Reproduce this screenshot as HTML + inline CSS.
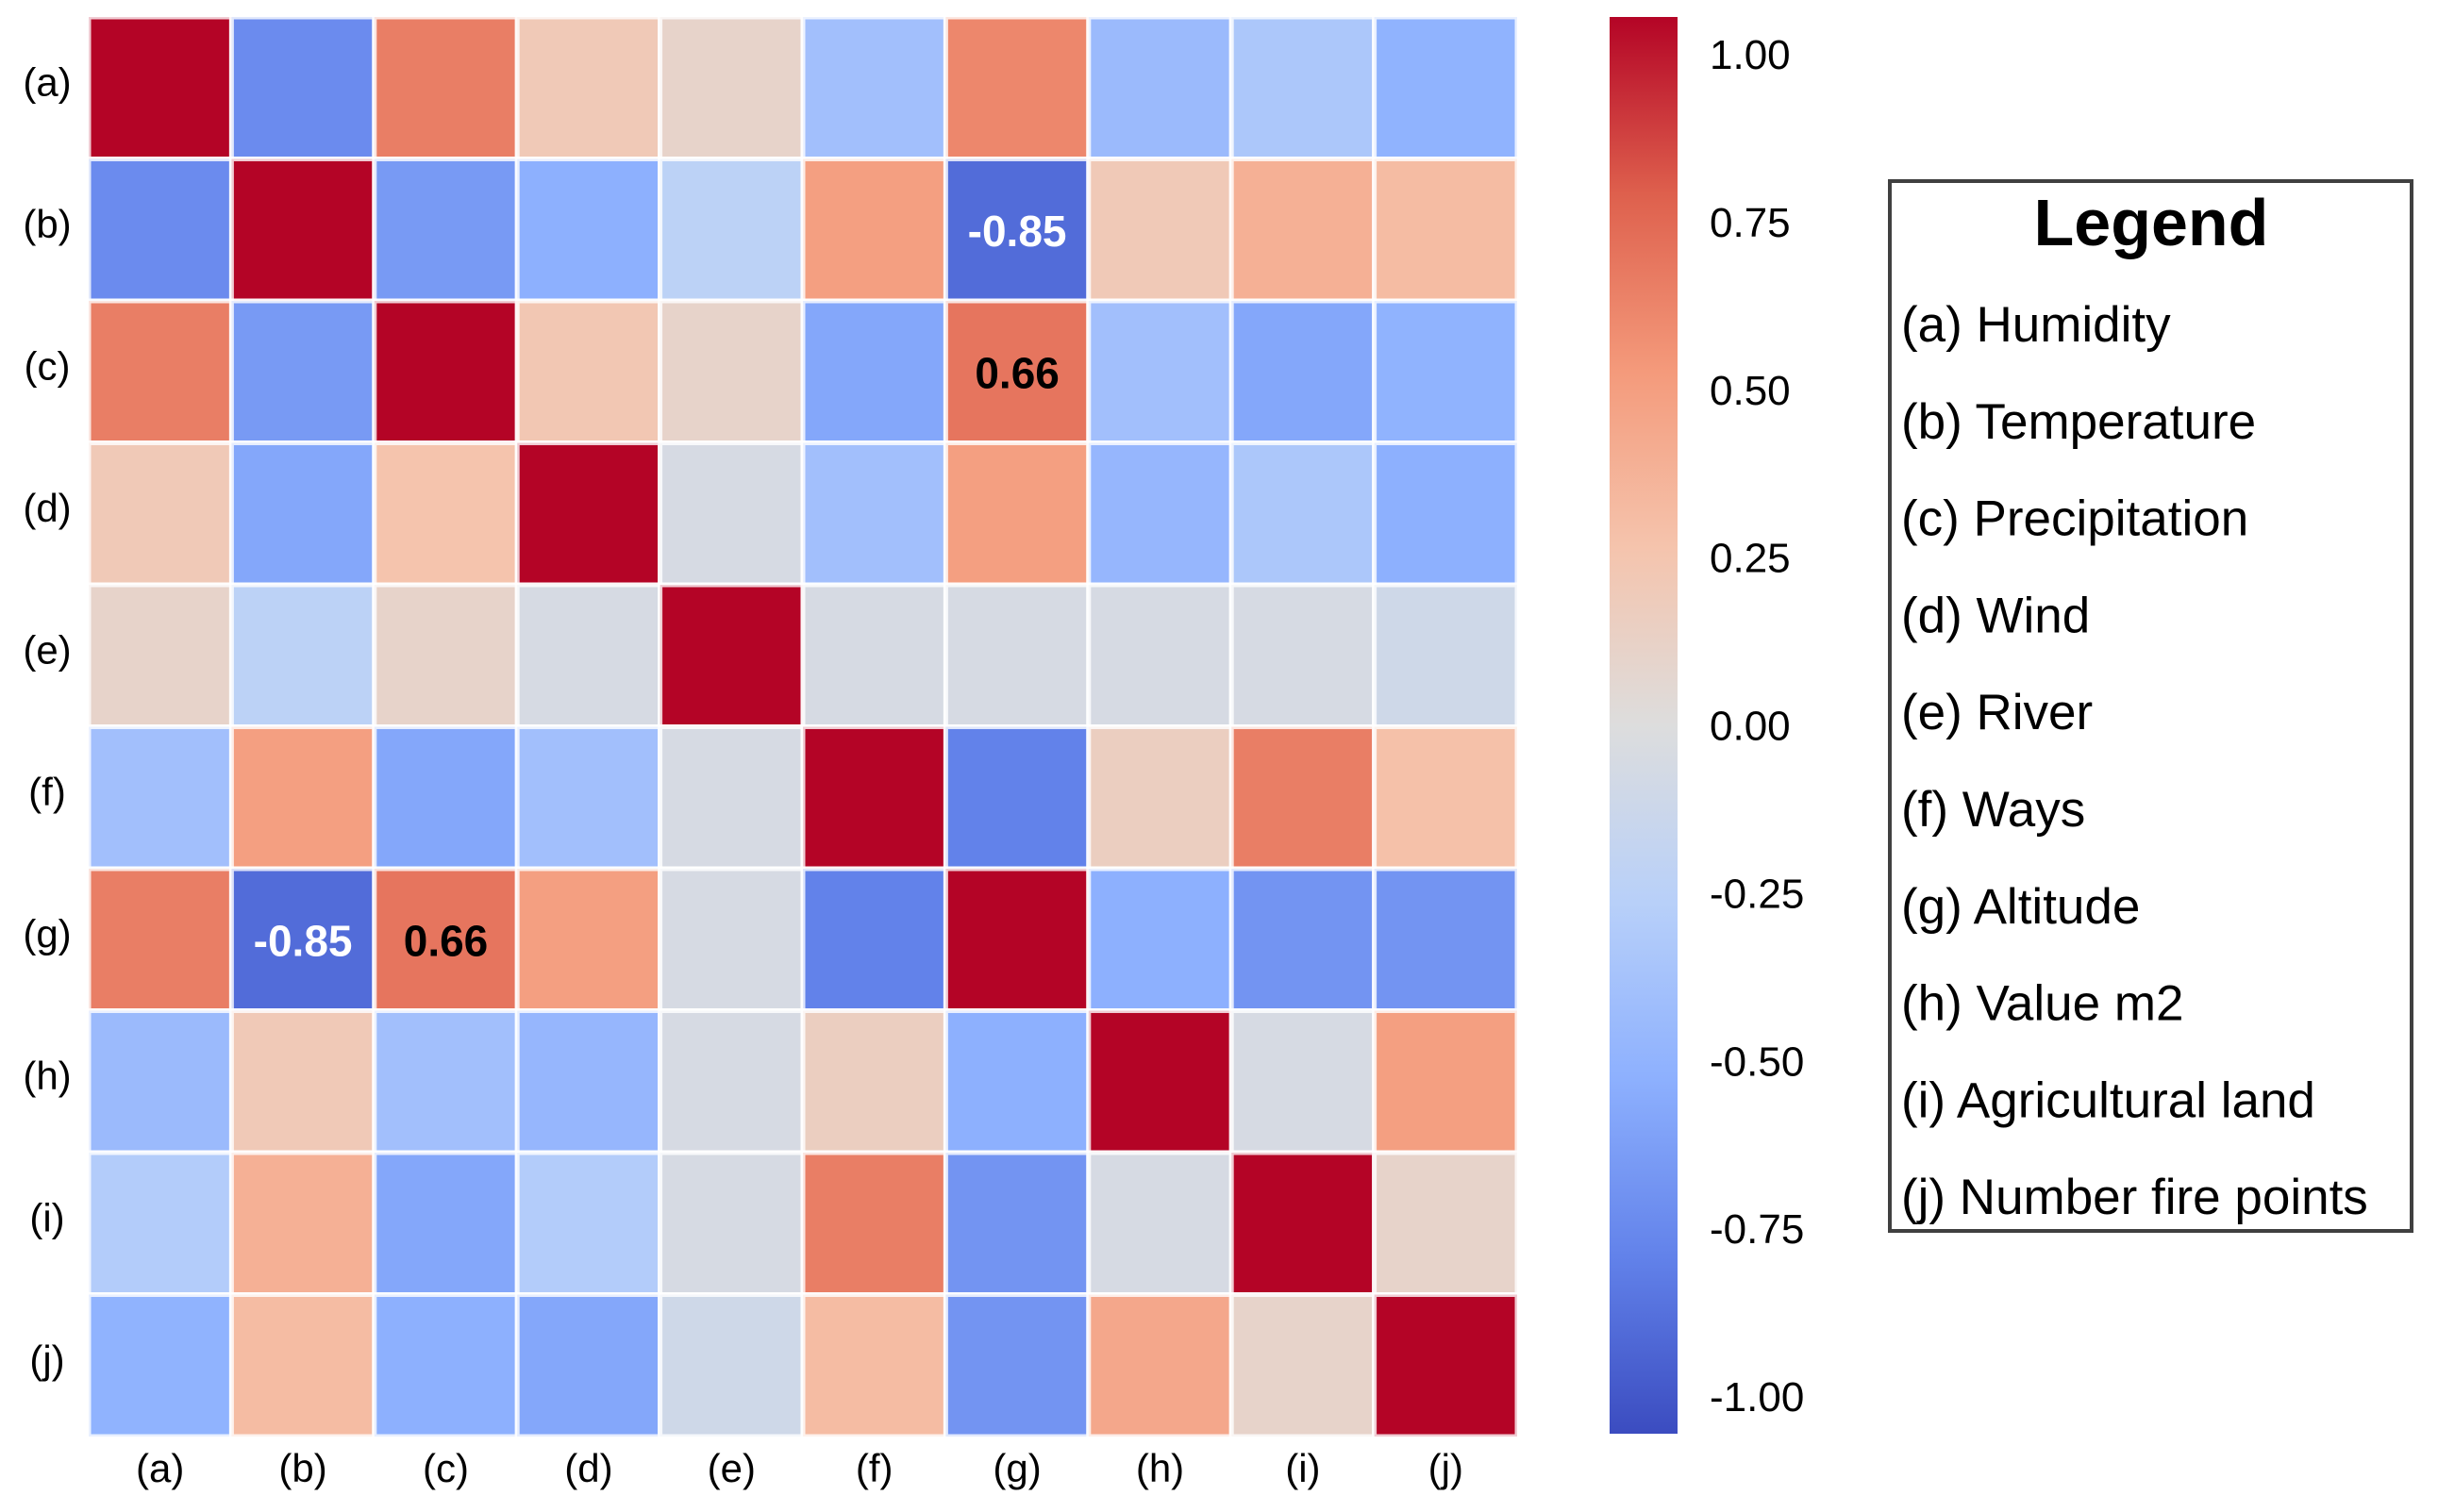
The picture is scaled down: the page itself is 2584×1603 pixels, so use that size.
<!DOCTYPE html>
<html><head><meta charset="utf-8"><style>
html,body{margin:0;padding:0;background:#fff;}
svg{display:block;font-family:"Liberation Sans",Arial,sans-serif;}
</style></head><body>
<svg id="chart" width="2584" height="1603" viewBox="0 0 2584 1603" xmlns="http://www.w3.org/2000/svg">
<defs>
<linearGradient id="cbgrad" x1="0" y1="1" x2="0" y2="0">
<stop offset="0" stop-color="#3b4cc0"/><stop offset="0.125" stop-color="#6282ea"/><stop offset="0.25" stop-color="#8db0fe"/><stop offset="0.375" stop-color="#b8d0f9"/><stop offset="0.5" stop-color="#dddddd"/><stop offset="0.625" stop-color="#f5c4ad"/><stop offset="0.75" stop-color="#f49a7b"/><stop offset="0.875" stop-color="#de604d"/><stop offset="1" stop-color="#b40426"/>
</linearGradient>
</defs>
<g id="cells"></g>
<g id="annots"></g>
<g id="ylabels"></g>
<g id="xlabels"></g>
<rect x="1706" y="18" width="72" height="1502" fill="url(#cbgrad)"/>
<g id="cbticks"></g>
<g>
<rect x="2003" y="192" width="553" height="1113" fill="#fff" stroke="#404040" stroke-width="4"/>
<text x="2280" y="260" text-anchor="middle" font-size="70" font-weight="bold" fill="#000">Legend</text>
<g id="legend-items"></g>
</g>
</svg>
<script>
const labels = ['(a)','(b)','(c)','(d)','(e)','(f)','(g)','(h)','(i)','(j)'];
const legendNames = ['(a) Humidity','(b) Temperature','(c) Precipitation','(d) Wind','(e) River','(f) Ways','(g) Altitude','(h) Value m2','(i) Agricultural land','(j) Number fire points'];
const rowA = [1, -0.7, 0.62, 0.2, 0.1, -0.38, 0.58, -0.42, -0.32, -0.48];
const rowB = [-0.7, 1, -0.62, -0.5, -0.22, 0.47, -0.85, 0.2, 0.37, 0.3];
const rowC = [0.62, -0.62, 1, 0.22, 0.1, -0.55, 0.66, -0.38, -0.55, -0.48];
const rowD = [0.2, -0.55, 0.25, 1, -0.05, -0.38, 0.47, -0.45, -0.32, -0.5];
const rowE = [0.1, -0.22, 0.1, -0.05, 1, -0.05, -0.05, -0.05, -0.05, -0.1];
const rowF = [-0.38, 0.47, -0.55, -0.38, -0.05, 1, -0.75, 0.15, 0.62, 0.27];
const rowG = [0.62, -0.85, 0.66, 0.47, -0.05, -0.75, 1, -0.5, -0.65, -0.65];
const rowH = [-0.42, 0.2, -0.38, -0.45, -0.05, 0.15, -0.5, 1, -0.05, 0.47];
const rowI = [-0.28, 0.37, -0.55, -0.28, -0.05, 0.62, -0.65, -0.05, 1, 0.1];
const rowJ = [-0.48, 0.3, -0.5, -0.55, -0.1, 0.3, -0.65, 0.42, 0.1, 1];
const matrix = [rowA,rowB,rowC,rowD,rowE,rowF,rowG,rowH,rowI,rowJ];
const annotated = [[1,6],[2,6],[6,1],[6,2]];
const cbTicks = [1.00, 0.75, 0.50, 0.25, 0.00, -0.25, -0.50, -0.75, -1.00];

const NS='http://www.w3.org/2000/svg';
const X0=94, Y0=18, CW=151.4, CH=150.5, VMAX=1.0;
const xPos=i=>X0+i*CW, yPos=i=>Y0+i*CH;
const cbY=v=>57+(1-v)*711.5;
const stops=[[59,76,192],[98,130,234],[141,176,254],[184,208,249],[221,221,221],[245,196,173],[244,154,123],[222,96,77],[180,4,38]];
function cmap(v){let t=(v+VMAX)/(2*VMAX);t=Math.max(0,Math.min(1,t));const p=t*8;const i=Math.min(7,Math.floor(p));const f=p-i;const a=stops[i],b=stops[i+1];return 'rgb('+a.map((c,k)=>Math.round(c+(b[k]-c)*f)).join(',')+')';}
function mk(tag,attrs,parent){const e=document.createElementNS(NS,tag);for(const k in attrs)e.setAttribute(k,attrs[k]);parent.appendChild(e);return e;}

const cells=document.getElementById('cells');
matrix.forEach((row,r)=>row.forEach((v,c)=>{
  const e=mk('rect',{x:xPos(c),y:yPos(r),width:CW,height:CH,fill:cmap(v),stroke:'#fff','stroke-opacity':'0.8','stroke-width':5},cells);
  
  
}));
const annots=document.getElementById('annots');
annotated.forEach(([r,c])=>{
  const v=matrix[r][c];
  const t=mk('text',{x:xPos(c)+CW/2,y:yPos(r)+CH/2+17,'text-anchor':'middle','font-size':46,'font-weight':'bold',fill:Math.abs(v)>0.7?'#fff':'#000'},annots);
  t.textContent=v.toFixed(2);
  
  
});
const yl=document.getElementById('ylabels'), xl=document.getElementById('xlabels');
labels.forEach((l,i)=>{
  const t=mk('text',{x:50,y:yPos(i)+CH/2+8,'text-anchor':'middle','font-size':42,fill:'#000'},yl);
  t.textContent=l;
  
  
  const u=mk('text',{x:xPos(i)+CW/2,y:1571,'text-anchor':'middle','font-size':42,fill:'#000'},xl);
  u.textContent=l;
  
  
});
const cb=document.getElementById('cbticks');
cbTicks.forEach(v=>{
  const t=mk('text',{x:1812,y:cbY(v)+16,'font-size':44,fill:'#000'},cb);
  t.textContent=(v<0?'-':'')+Math.abs(v).toFixed(2);
  
  
});
const li=document.getElementById('legend-items');
legendNames.forEach((n,i)=>{
  const t=mk('text',{x:2015,y:362+i*102.8,'font-size':53,fill:'#000'},li);
  t.textContent=n;
  
  
});
</script>
</body></html>
